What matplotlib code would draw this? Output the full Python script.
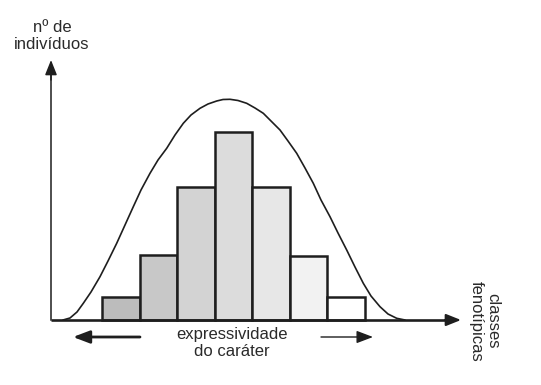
import matplotlib
matplotlib.use("Agg")
import matplotlib.pyplot as plt
import numpy as np

plt.rcParams['font.family'] = ['Liberation Sans', 'DejaVu Sans']

# data (heights in chart units)
classes = [1, 2, 3, 4, 5, 6, 7]
heights = [23, 65, 133, 188, 133, 64, 23]
fills = ['#bcbcbc', '#c8c8c8', '#d3d3d3', '#dcdcdc', '#e7e7e7', '#f2f2f2', '#ffffff']

curve_x = [63, 70, 77, 83.3, 91, 100, 108, 116.7, 125, 133.3, 141, 150, 158, 166.7, 175, 183.3,
           191, 200, 208, 216.7, 223, 230, 238, 246.7, 255, 263.3, 271, 280, 288, 296.7, 305,
           313.3, 321, 330, 338, 346.7, 355, 363.3, 371, 380, 388, 396.7, 405]
curve_y = [0, 2, 8, 16.7, 28, 43.3, 59, 76.7, 95, 113.3, 130, 146.7, 160, 171.7, 185, 196.7,
           205, 211.7, 216, 219, 220.5, 220.7, 219.5, 216.7, 212, 206.7, 199, 190, 179, 166.7, 152,
           136.7, 120, 103.3, 87, 70, 53, 36.7, 24, 13.3, 6, 1.7, 0]

bar_left = 102.3
bar_w = 37.53

fig = plt.figure(figsize=(5.41, 3.85), dpi=100)
ax = fig.add_axes([0, 0, 1, 1])
ax.set_xlim(0, 541)
ax.set_ylim(-65, 320)
ax.axis('off')

xs = [bar_left + bar_w * (c - 0.5) for c in classes]
ax.bar(xs, heights, width=bar_w, color=fills, edgecolor='#1e1e1e', linewidth=1.8, zorder=2)

ax.plot(curve_x, curve_y, color='#1e1e1e', linewidth=1.2, zorder=3, solid_capstyle='round')

# axes
ax.plot([51, 452], [0, 0], color='#1e1e1e', linewidth=1.9, zorder=4, solid_capstyle='butt')
ax.annotate('', xy=(461, 0), xytext=(445, 0),
            arrowprops=dict(arrowstyle='-|>,head_length=9,head_width=3.6', mutation_scale=1,
                            color='#1e1e1e', lw=1.5, shrinkA=0, shrinkB=0))
ax.plot([51, 51], [0, 250], color='#1e1e1e', linewidth=1.1, zorder=4)
ax.annotate('', xy=(51, 260), xytext=(51, 240),
            arrowprops=dict(arrowstyle='-|>,head_length=9,head_width=3.6', mutation_scale=1,
                            color='#1e1e1e', lw=1.1, shrinkA=0, shrinkB=0))

# expressivity arrows
ax.annotate('', xy=(73, -17), xytext=(140, -17),
            arrowprops=dict(arrowstyle='-|>,head_length=10,head_width=3.8', mutation_scale=1,
                            color='#1e1e1e', lw=2.0, shrinkA=0, shrinkB=0))
ax.annotate('', xy=(373, -17), xytext=(321, -17),
            arrowprops=dict(arrowstyle='-|>,head_length=10,head_width=3.8', mutation_scale=1,
                            color='#1e1e1e', lw=1.0, shrinkA=0, shrinkB=0))

ax.text(232, -23, 'expressividade\ndo caráter', ha='center', va='center', fontsize=12,
        color='#2a2a2a', linespacing=1.2)
ax.text(52, 284, 'nº de\nindivíduos', ha='center', va='center', fontsize=12,
        color='#2a2a2a', linespacing=1.2)
ax.text(484.5, -1, 'classes\nfenotípicas', ha='center', va='center', fontsize=12,
        color='#2a2a2a', linespacing=1.2, rotation=-90, multialignment='center')

fig.savefig('out.png', dpi=100)
